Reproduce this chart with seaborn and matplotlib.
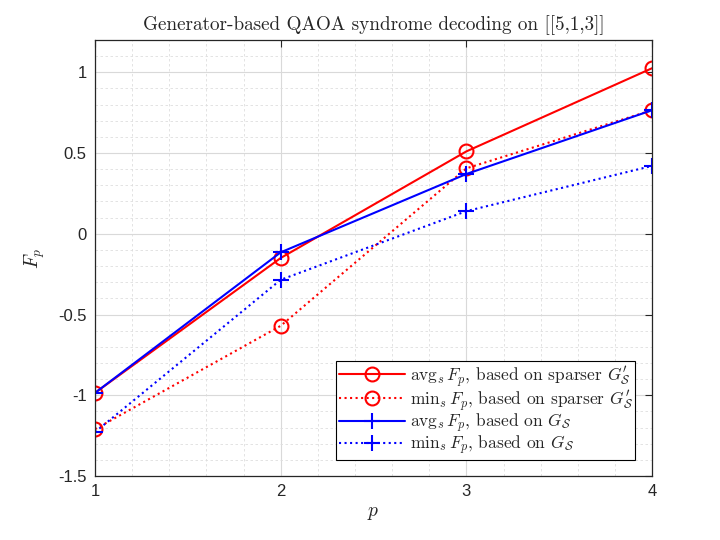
import pandas as pd
import numpy as np
import matplotlib
matplotlib.use("Agg")
import matplotlib.pyplot as plt
from matplotlib.ticker import MultipleLocator, FixedLocator
import seaborn as sns

# Data
P = [1, 2, 3, 4]
AVG_SPARSE = [-0.985, -0.15, 0.51, 1.025]
MIN_SPARSE = [-1.21, -0.57, 0.405, 0.765]
AVG_G = [-0.985, -0.115, 0.37, 0.765]
MIN_G = [-1.228, -0.285, 0.14, 0.42]

LABELS = [
    r"$\mathrm{avg}_s\,F_p$, based on sparser $G^{\prime}_\mathcal{S}$",
    r"$\mathrm{min}_s\,F_p$, based on sparser $G^{\prime}_\mathcal{S}$",
    r"$\mathrm{avg}_s\,F_p$, based on $G_\mathcal{S}$",
    r"$\mathrm{min}_s\,F_p$, based on $G_\mathcal{S}$",
]

sns.set_style("white")
plt.rcParams["mathtext.fontset"] = "cm"
plt.rcParams["font.family"] = ["Liberation Sans", "DejaVu Sans"]

fig = plt.figure(figsize=(7.2, 5.4), dpi=100)
ax = fig.add_axes([0.132, 0.1185, 0.7736, 0.8075])

series = [
    (AVG_SPARSE, "red", "-", "o"),
    (MIN_SPARSE, "red", ":", "o"),
    (AVG_G, "blue", "-", "+"),
    (MIN_G, "blue", ":", "+"),
]
for (vals, col, ls, mk), lab in zip(series, LABELS):
    df = pd.DataFrame({"p": P, "F": vals})
    sns.lineplot(data=df, x="p", y="F", ax=ax, color=col, linestyle=ls,
                 linewidth=1.5, marker=mk, markersize=10 if mk == "o" else 11,
                 markerfacecolor="none", markeredgecolor=col,
                 markeredgewidth=1.5, label=lab)

ax.set_xlim(1, 4)
ax.set_ylim(-1.5, 1.2)
ax.xaxis.set_major_locator(FixedLocator([1, 2, 3, 4]))
ax.yaxis.set_major_locator(FixedLocator([-1.5, -1, -0.5, 0, 0.5, 1]))
ax.set_xticklabels(["1", "2", "3", "4"])
ax.set_yticklabels(["-1.5", "-1", "-0.5", "0", "0.5", "1"])
ax.xaxis.set_minor_locator(MultipleLocator(0.2))
ax.yaxis.set_minor_locator(MultipleLocator(0.1))

ax.grid(which="major", color="#d9d9d9", linewidth=0.8, linestyle="-")
ax.grid(which="minor", color="#dedede", linewidth=0.6, linestyle=(0, (3, 3)))
ax.set_axisbelow(True)

ax.tick_params(which="major", direction="in", length=5, width=0.8,
               top=True, right=True, labelsize=12, colors="#262626",
               labelcolor="#262626", pad=6)
ax.tick_params(which="minor", length=0, top=False, right=False)
for s in ax.spines.values():
    s.set_color("#262626")
    s.set_linewidth(0.9)

ax.set_xlabel(r"$p$", fontsize=14, labelpad=4)
ax.set_ylabel(r"$F_p$", fontsize=14, labelpad=8)
ax.set_title("Generator-based QAOA syndrome decoding on [[5,1,3]]",
             fontsize=13.8, fontfamily="cmr10", pad=7)

leg = ax.legend(loc="lower right", bbox_to_anchor=(0.97, 0.037),
                borderaxespad=0, fancybox=False, framealpha=1,
                edgecolor="black", handlelength=3.8, handletextpad=0.3,
                borderpad=0.15, labelspacing=-0.05,
                prop={"family": "cmr10", "size": 12.5})
leg.get_frame().set_linewidth(0.8)

fig.savefig("out.png", dpi=100)
